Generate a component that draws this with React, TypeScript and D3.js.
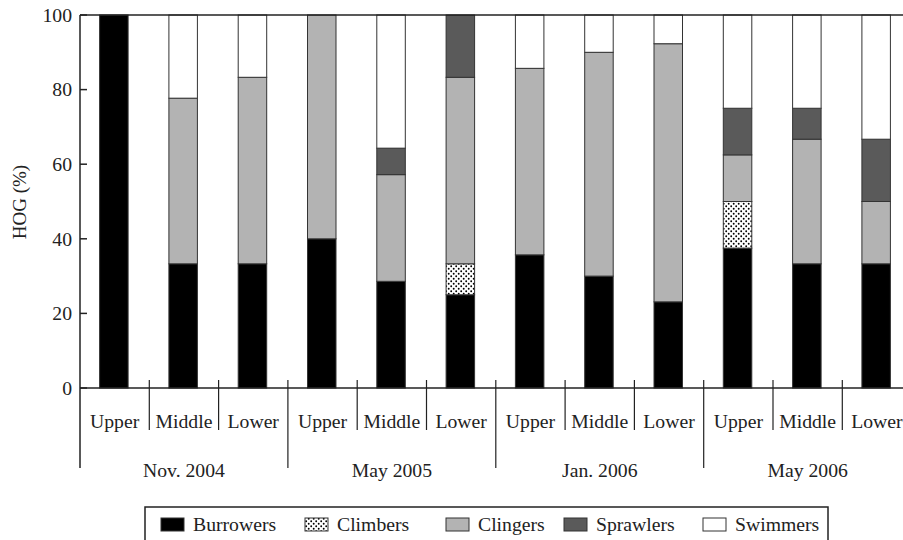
import React from "react";
import * as d3 from "d3";

// Sampling periods and reaches along the stream
const periods = ["Nov. 2004", "May 2005", "Jan. 2006", "May 2006"];
const reaches = ["Upper", "Middle", "Lower"];
const guilds = ["Burrowers", "Climbers", "Clingers", "Sprawlers", "Swimmers"];

// Percentage of each habit-oriented group (HOG) per period × reach
const burrowers = [100, 33.3, 33.3, 40, 28.6, 25, 35.7, 30, 23.1, 37.5, 33.3, 33.3];
const climbers = [0, 0, 0, 0, 0, 8.3, 0, 0, 0, 12.5, 0, 0];
const clingers = [0, 44.4, 50, 60, 28.6, 50, 50, 60, 69.2, 12.5, 33.4, 16.7];
const sprawlers = [0, 0, 0, 0, 7.1, 16.7, 0, 0, 0, 12.5, 8.3, 16.7];
const swimmers = [0, 22.3, 16.7, 0, 35.7, 0, 14.3, 10, 7.7, 25, 25, 33.3];

const yTicks = [0, 20, 40, 60, 80, 100];

const W = 903;
const H = 540;
const left = 80;
const top = 15;
const bottom = 388;
const bandW = 69.3;
const barW = 28.5;
const font = "Liberation Serif, Times New Roman, Times, serif";
const ink = "#222";

const fills: Record<string, string> = {
  Burrowers: "#000",
  Climbers: "url(#dots)",
  Clingers: "#b3b3b3",
  Sprawlers: "#5a5a5a",
  Swimmers: "#fff",
};

// legend item x positions (swatch left edges)
const legendX = [161, 305, 446, 564, 703];

const textStyle: React.CSSProperties = { fontFamily: font, fontSize: 19.7, fill: ink };

export default function App() {
  const cats = periods.flatMap((p) => reaches.map((r) => `${p}|${r}`));
  const rows = cats.map((c, i) => ({
    key: c,
    Burrowers: burrowers[i],
    Climbers: climbers[i],
    Clingers: clingers[i],
    Sprawlers: sprawlers[i],
    Swimmers: swimmers[i],
  }));
  const stack = d3.stack<any>().keys(guilds)(rows);

  const x = d3
    .scaleBand<string>()
    .domain(cats)
    .range([left, left + bandW * cats.length])
    .paddingInner(0)
    .paddingOuter(0);
  const y = d3.scaleLinear().domain([0, 100]).range([bottom, top]);

  const barX = (c: string) => (x(c) as number) + (x.bandwidth() - barW) / 2 - 0.8;

  return (
    <svg width={W} height={H} style={{ position: "absolute", left: 0, top: 0, background: "#fff" }}>
      <defs>
        <pattern id="dots" width="5" height="5" patternUnits="userSpaceOnUse">
          <rect width="5" height="5" fill="#fff" />
          <circle cx="1.2" cy="1.2" r="0.95" fill="#000" />
          <circle cx="3.7" cy="3.7" r="0.95" fill="#000" />
        </pattern>
      </defs>

      {/* stacked bars */}
      {stack.map((layer) =>
        layer.map((d, i) => {
          const v = d[1] - d[0];
          if (v <= 0) return null;
          return (
            <rect
              key={`${layer.key}-${i}`}
              x={barX(cats[i])}
              y={y(d[1])}
              width={barW}
              height={y(d[0]) - y(d[1])}
              fill={fills[layer.key]}
              stroke="#333"
              strokeWidth={1}
            />
          );
        })
      )}

      {/* frame: top edge, y axis, x axis */}
      <line x1={left} x2={W} y1={top} y2={top} stroke={ink} strokeWidth={1.5} />
      <line x1={left} x2={W} y1={bottom} y2={bottom} stroke={ink} strokeWidth={1.5} />
      <line x1={left} x2={left} y1={top} y2={468} stroke={ink} strokeWidth={1.5} />

      {/* y ticks and labels */}
      {yTicks.map((t) => (
        <g key={t}>
          <line x1={left} x2={left + 7} y1={y(t)} y2={y(t)} stroke={ink} strokeWidth={1.5} />
          <text x={72} y={y(t)} dy="0.35em" textAnchor="end" style={textStyle}>
            {t}
          </text>
        </g>
      ))}

      <text
        transform={`translate(26,202) rotate(-90)`}
        textAnchor="middle"
        style={{ ...textStyle, fontSize: 19 }}
      >
        HOG (%)
      </text>

      {/* category separators and reach labels */}
      {cats.map((c, i) => {
        const x0 = x(c) as number;
        const groupEdge = i % 3 === 0;
        const [, reach] = c.split("|");
        return (
          <g key={c}>
            {i > 0 && (
              <line
                x1={x0}
                x2={x0}
                y1={380}
                y2={groupEdge ? 468 : 430}
                stroke={ink}
                strokeWidth={1.2}
              />
            )}
            <text x={x0 + x.bandwidth() / 2} y={427.5} textAnchor="middle" style={textStyle}>
              {reach}
            </text>
          </g>
        );
      })}

      {/* period labels */}
      {periods.map((p) => {
        const x0 = x(`${p}|${reaches[0]}`) as number;
        return (
          <text
            key={p}
            x={x0 + (x.bandwidth() * 3) / 2}
            y={476.5}
            textAnchor="middle"
            style={textStyle}
          >
            {p}
          </text>
        );
      })}

      {/* legend */}
      <rect x={145} y={507} width={683} height={40} fill="none" stroke={ink} strokeWidth={1.5} />
      {guilds.map((g, i) => (
        <g key={g}>
          <rect
            x={legendX[i]}
            y={518}
            width={23}
            height={13}
            fill={fills[g]}
            stroke="#333"
            strokeWidth={1}
          />
          <text x={legendX[i] + 32} y={530.5} style={textStyle}>
            {g}
          </text>
        </g>
      ))}
    </svg>
  );
}
